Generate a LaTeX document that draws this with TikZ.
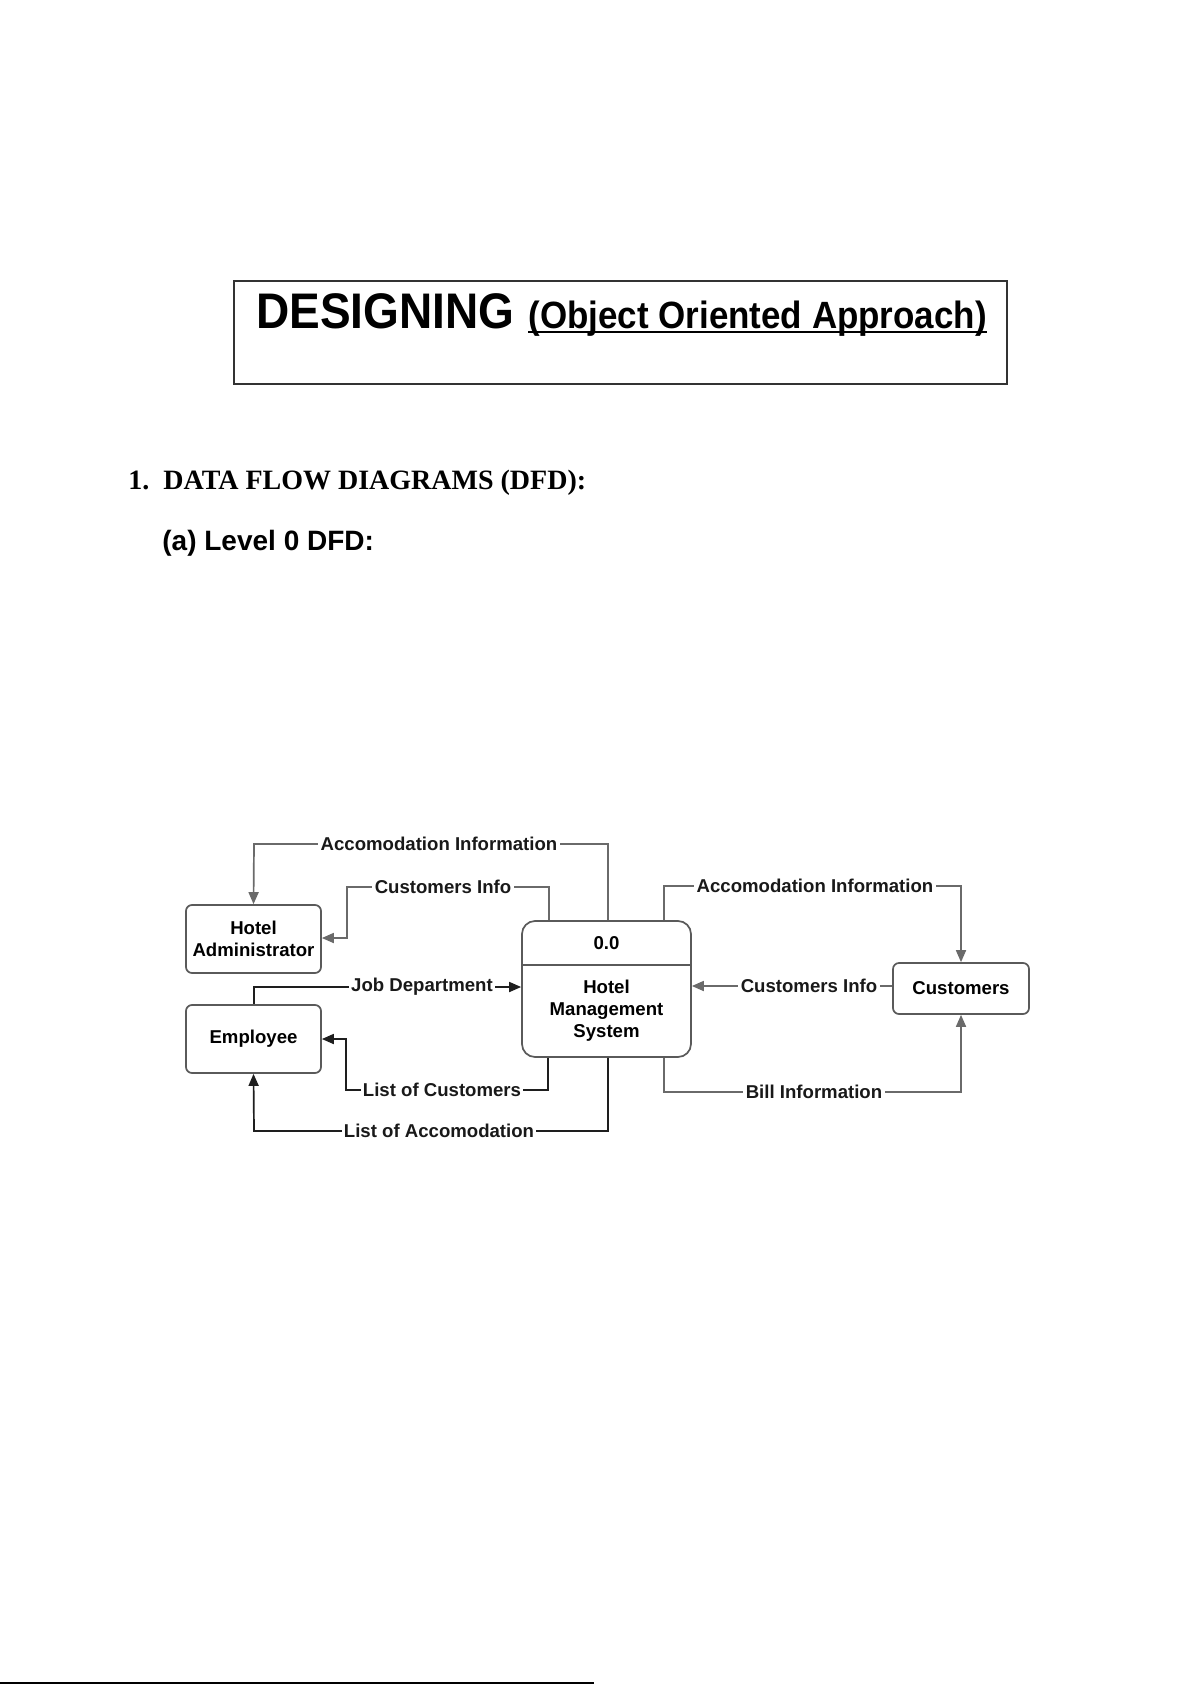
\documentclass[tikz,border=0pt]{standalone}
\usepackage{fontspec}
\setmainfont{Liberation Serif}
\newfontfamily\arial{Liberation Sans}
\usetikzlibrary{arrows.meta,calc}
\definecolor{boxgray}{HTML}{5A5A5A}
\definecolor{linegray}{HTML}{6A6A6A}
\definecolor{linedark}{HTML}{1E1E1E}
\begin{document}
\begin{tikzpicture}[x=0.5pt,y=-0.5pt,
  dfdfont/.style={font=\arial\bfseries\fontsize{9.3}{11}\selectfont},
  ent/.style={draw=boxgray, line width=0.85pt, rounded corners=3pt, fill=white,
    minimum width=67.5pt, minimum height=34pt, align=center, inner sep=1pt, dfdfont},
  lbl/.style={fill=white, inner sep=1.2pt, dfdfont, text=black!90},
  gl/.style={draw=linegray, line width=0.85pt, -{Triangle[length=6pt,width=5pt]}},
  bl/.style={draw=linedark, line width=0.85pt, -{Triangle[length=6pt,width=5pt]}}
]
\useasboundingbox (0,0) rectangle (1191,1685);
\fill[white] (0,0) rectangle (1191,1685);

% ---- title box ----
\draw[line width=0.6pt, draw=black!80] (234,281) rectangle (1007,384);
\node[anchor=base west, inner sep=0] (t1) at (256,328)
  {\arial\bfseries\fontsize{25}{28}\selectfont\scalebox{0.92}[1]{DESIGNING}};
\node[anchor=base west, inner sep=0] (t2) at (528,328)
  {\arial\bfseries\fontsize{19}{22}\selectfont\scalebox{0.92}[1]{(Object Oriented Approach)}};
\draw[line width=1.1pt] ($(t2.base west)+(0,4)$) -- ($(t2.base east)+(0,4)$);

% ---- headings ----
\node[anchor=base west, inner sep=0] (h1) at (128,489)
  {\bfseries\fontsize{14}{16}\selectfont 1.};
\node[anchor=base west, inner sep=0] (h2) at (163,489)
  {\bfseries\fontsize{14}{16}\selectfont DATA FLOW DIAGRAMS (DFD):};
\node[anchor=base west, inner sep=0] (h3) at (162,550)
  {\arial\bfseries\fontsize{14}{16}\selectfont (a) Level 0 DFD:};

% ---- entities ----
\node[ent] (ha) at (253.5,939) {Hotel\\Administrator};
\node[ent] (em) at (253.5,1039) {Employee};
\node[ent, minimum width=68pt, minimum height=25.5pt] (cu) at (961,988.5) {Customers};
\node[draw=boxgray, line width=0.85pt, rounded corners=6.5pt, fill=white,
      minimum width=84.5pt, minimum height=68pt] (p) at (606.5,989) {};
\coordinate (dv) at (0,965);
\draw[draw=boxgray, line width=0.85pt] (p.west |- dv) -- (p.east |- dv);
\node[dfdfont, inner sep=0] (pn) at (606.5,943) {0.0};
\node[dfdfont, align=center, inner sep=0] (pt) at (606.5,1011) {Hotel\\Management\\System};

% ---- corner points ----
\coordinate (a1) at (608,844);  \coordinate (a2) at (254,844);
\coordinate (b1) at (549,887);  \coordinate (b2) at (347,887); \coordinate (b3) at (347,938);
\coordinate (c1) at (254,987);
\coordinate (d1) at (548,1090); \coordinate (d2) at (346,1090); \coordinate (d3) at (346,1039);
\coordinate (f1) at (608,1131); \coordinate (f2) at (254,1131);
\coordinate (g1) at (664,886);  \coordinate (g2) at (961,886);
\coordinate (h1c) at (893,986);
\coordinate (i1) at (664,1092); \coordinate (i2) at (961,1092);

% ---- connectors ----
\draw[gl] (p.north -| a1) -- (a1) -- (a2) -- (ha.north);
\draw[gl] (p.north -| b1) -- (b1) -- (b2) -- (b3) -- (ha.east |- b3);
\draw[bl] (em.north -| c1) -- (c1) -- (p.west |- c1);
\draw[bl] (p.south -| d1) -- (d1) -- (d2) -- (d3) -- (em.east |- d3);
\draw[bl] (p.south -| f1) -- (f1) -- (f2) -- (em.south);
\draw[gl] (p.north -| g1) -- (g1) -- (g2) -- (cu.north);
\draw[gl] (cu.west |- h1c) -- (p.east |- h1c);
\draw[gl] (p.south -| i1) -- (i1) -- (i2) -- (cu.south);

% ---- labels ----
\node[lbl] (l1) at (439,844) {Accomodation Information};
\node[lbl] (l2) at (443,887) {Customers Info};
\node[lbl] (l3) at (422,987) {Job Department};
\node[lbl] (l4) at (442,1090) {List of Customers};
\node[lbl] (l5) at (439,1131) {List of Accomodation};
\node[lbl] (l6) at (815,886) {Accomodation Information};
\node[lbl] (l7) at (809,986) {Customers Info};
\node[lbl] (l8) at (814,1092) {Bill Information};

% ---- footer rule ----
\coordinate (fr1) at (0,1683); \coordinate (fr2) at (594,1683);
\draw[line width=1.2pt] (fr1) -- (fr2);
\end{tikzpicture}
\end{document}
